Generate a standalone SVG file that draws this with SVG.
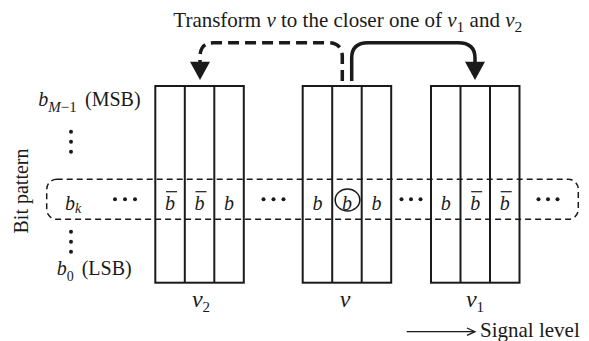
<svg xmlns="http://www.w3.org/2000/svg" width="589" height="341" viewBox="0 0 589 341" font-family="'Liberation Serif', 'Times New Roman', 'DejaVu Serif', serif">
<style>
text{font-family:'Liberation Serif','Times New Roman','DejaVu Serif',serif;fill:#1a1a1a;font-size:20px}
.it{font-style:italic}
.box{fill:none;stroke:#1a1a1a;stroke-width:2}
.col{stroke:#1a1a1a;stroke-width:2}
.row{fill:none;stroke:#1a1a1a;stroke-width:1.5;stroke-dasharray:6 4}
.bar{stroke:#1a1a1a;stroke-width:1.2}
.dot{fill:#1a1a1a}
.conn{fill:none;stroke:#1a1a1a;stroke-width:3.5}
.dash{stroke-dasharray:11 6}
.head{fill:#1a1a1a}
.lbl{font-size:24px}
</style>
<rect class="row" x="46.7" y="179.3" width="531.6" height="40" rx="10" ry="10"/>
<g id="bit-pattern-labels">
<text transform="translate(28.3,191) rotate(-90)" text-anchor="middle">Bit pattern</text>
<text x="38.3" y="106"><tspan class="it">b</tspan><tspan font-size="15" dy="5.5"><tspan class="it">M</tspan>−1</tspan></text>
<text x="85" y="106">(MSB)</text>
<circle class="dot" cx="71" cy="131.7" r="2"/><circle class="dot" cx="71" cy="141.7" r="2"/><circle class="dot" cx="71" cy="151.7" r="2"/>
<text x="65" y="209.5"><tspan class="it">b</tspan><tspan class="it" font-size="14" dy="3">k</tspan></text>
<circle class="dot" cx="71" cy="231.7" r="2"/><circle class="dot" cx="71" cy="241.7" r="2"/><circle class="dot" cx="71" cy="251.7" r="2"/>
<text x="56.7" y="275"><tspan class="it">b</tspan><tspan font-size="14" dy="6">0</tspan></text>
<text x="81.7" y="275">(LSB)</text>
</g>
<g id="row-dots">
<circle class="dot" cx="115" cy="199.3" r="2"/><circle class="dot" cx="125" cy="199.3" r="2"/><circle class="dot" cx="135" cy="199.3" r="2"/>
<circle class="dot" cx="263.5" cy="199.3" r="2"/><circle class="dot" cx="273.5" cy="199.3" r="2"/><circle class="dot" cx="283.5" cy="199.3" r="2"/>
<circle class="dot" cx="401.5" cy="199.3" r="2"/><circle class="dot" cx="411" cy="199.3" r="2"/><circle class="dot" cx="420.5" cy="199.3" r="2"/>
<circle class="dot" cx="538.5" cy="199.3" r="2"/><circle class="dot" cx="548" cy="199.3" r="2"/><circle class="dot" cx="557.5" cy="199.3" r="2"/>
</g>
<g id="v2">
<rect class="box" x="155.3" y="86" width="88.5" height="196.7"/>
<line class="col" x1="184.8" y1="86" x2="184.8" y2="282.7"/>
<line class="col" x1="214.3" y1="86" x2="214.3" y2="282.7"/>
<text class="it" x="170" y="209.5" text-anchor="middle">b</text>
<line class="bar" x1="166" y1="191.7" x2="177" y2="191.7"/>
<text class="it" x="199.5" y="209.5" text-anchor="middle">b</text>
<line class="bar" x1="195.5" y1="191.7" x2="206.5" y2="191.7"/>
<text class="it" x="229" y="209.5" text-anchor="middle">b</text>
<text class="lbl" x="201" y="306.7" text-anchor="middle"><tspan class="it">v</tspan><tspan font-size="15" dy="5">2</tspan></text>
</g>
<g id="v">
<rect class="box" x="302.7" y="86" width="88.5" height="196.7"/>
<line class="col" x1="332.2" y1="86" x2="332.2" y2="282.7"/>
<line class="col" x1="361.7" y1="86" x2="361.7" y2="282.7"/>
<text class="it" x="317.5" y="209.5" text-anchor="middle">b</text>
<text class="it" x="347" y="209.5" text-anchor="middle">b</text>
<ellipse cx="347.5" cy="200" rx="12.3" ry="11" fill="none" stroke="#1a1a1a" stroke-width="1.5"/>
<text class="it" x="376.5" y="209.5" text-anchor="middle">b</text>
<text class="lbl it" x="345" y="306.7" text-anchor="middle">v</text>
</g>
<g id="v1">
<rect class="box" x="431" y="86" width="88.5" height="196.7"/>
<line class="col" x1="460.5" y1="86" x2="460.5" y2="282.7"/>
<line class="col" x1="490" y1="86" x2="490" y2="282.7"/>
<text class="it" x="445.7" y="209.5" text-anchor="middle">b</text>
<text class="it" x="475.2" y="209.5" text-anchor="middle">b</text>
<line class="bar" x1="471.2" y1="191.7" x2="482.2" y2="191.7"/>
<text class="it" x="504.7" y="209.5" text-anchor="middle">b</text>
<line class="bar" x1="500.7" y1="191.7" x2="511.7" y2="191.7"/>
<text class="lbl" x="475" y="306.7" text-anchor="middle"><tspan class="it">v</tspan><tspan font-size="15" dy="5">1</tspan></text>
</g>
<g id="title">
<text x="173.3" y="26.7" font-size="21" style="font-size:21px">Transform <tspan class="it">v</tspan> to the closer one of <tspan class="it">v</tspan><tspan style="font-size:15.5px" dy="5">1</tspan><tspan dy="-5"> and </tspan><tspan class="it">v</tspan><tspan style="font-size:15.5px" dy="5">2</tspan></text>
</g>
<g id="connectors">
<path class="conn dash" d="M342.3 81 V57 Q342.3 42.7 328 42.7 H214 Q200 42.7 200 57 V63"/>
<polygon class="head" points="190,61.7 210,61.7 200,80"/>
<path class="conn" d="M351.7 81 V58 Q351.7 42.7 368 42.7 H458 Q475 42.7 475 58 V63"/>
<polygon class="head" points="465,61.7 485,61.7 475,80"/>
<line x1="406.7" y1="331.7" x2="474" y2="331.7" stroke="#1a1a1a" stroke-width="1.3"/>
<polyline points="467,328 475,331.7 467,335.4" fill="none" stroke="#1a1a1a" stroke-width="1.3"/>
<text x="480" y="336.5" style="font-size:21px">Signal level</text>
</g>
</svg>
